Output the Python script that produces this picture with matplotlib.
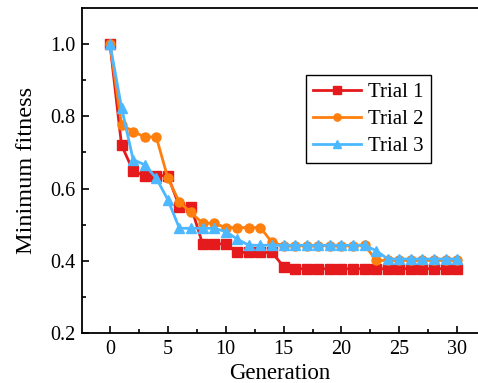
import matplotlib.pyplot as plt

generations = list(range(31))

trial1 = [1.0, 0.72, 0.649, 0.635, 0.635, 0.636, 0.55, 0.55, 0.447, 0.447, 0.447,
          0.423, 0.423, 0.423, 0.423, 0.384, 0.378, 0.378, 0.378, 0.378, 0.378,
          0.378, 0.378, 0.378, 0.378, 0.378, 0.378, 0.378, 0.378, 0.378, 0.378]
trial2 = [1.0, 0.777, 0.758, 0.743, 0.743, 0.629, 0.562, 0.534, 0.504, 0.504, 0.492,
          0.492, 0.492, 0.492, 0.451, 0.442, 0.442, 0.442, 0.442, 0.442, 0.442,
          0.442, 0.444, 0.401, 0.401, 0.401, 0.401, 0.401, 0.401, 0.401, 0.401]
trial3 = [1.0, 0.824, 0.68, 0.666, 0.629, 0.569, 0.49, 0.49, 0.49, 0.49, 0.481,
          0.46, 0.443, 0.443, 0.443, 0.443, 0.443, 0.443, 0.443, 0.443, 0.443,
          0.443, 0.443, 0.428, 0.405, 0.405, 0.405, 0.405, 0.405, 0.405, 0.405]

plt.rcParams['font.family'] = ['Liberation Serif', 'DejaVu Serif']

fig = plt.figure(figsize=(4.78, 3.83), dpi=100)
ax = fig.add_axes([0.1715, 0.1305, 0.8285, 0.8486])

ax.plot(generations, trial1, color='#e41a1c', marker='s', markersize=6.5, lw=2, label='Trial 1')
ax.plot(generations, trial2, color='#ff7f0e', marker='o', markersize=6.5, lw=2, label='Trial 2')
ax.plot(generations, trial3, color='#4db8ff', marker='^', markersize=6.5, lw=2, label='Trial 3')

ax.set_xlim(-2.42, 31.8)
ax.set_ylim(0.2, 1.1)
ax.set_xticks([0, 5, 10, 15, 20, 25, 30])
ax.set_xticks([2.5, 7.5, 12.5, 17.5, 22.5, 27.5], minor=True)
ax.set_yticks([0.2, 0.4, 0.6, 0.8, 1.0])
ax.set_yticks([0.3, 0.5, 0.7, 0.9], minor=True)
ax.set_yticklabels(['0.2', '0.4', '0.6', '0.8', '1.0'])
ax.tick_params(which='both', direction='in', labelsize=14.5, width=1.2)
ax.tick_params(which='major', length=5, pad=5)
ax.tick_params(which='minor', length=3)
ax.spines['right'].set_visible(False)
for s in ['left', 'bottom', 'top']:
    ax.spines[s].set_linewidth(1.3)

ax.set_xlabel('Generation', fontsize=16.5, labelpad=3)
ax.set_ylabel('Minimum fitness', fontsize=17.5, labelpad=9)

leg = ax.legend(loc='upper left', bbox_to_anchor=(0.566, 0.794), borderaxespad=0,
                fontsize=15, fancybox=False, edgecolor='black', framealpha=1,
                handlelength=2.3, borderpad=0.35, labelspacing=0.36, handletextpad=0.3,
                markerscale=0.8)
leg.get_frame().set_linewidth(1)

fig.savefig('out.png', dpi=100)
